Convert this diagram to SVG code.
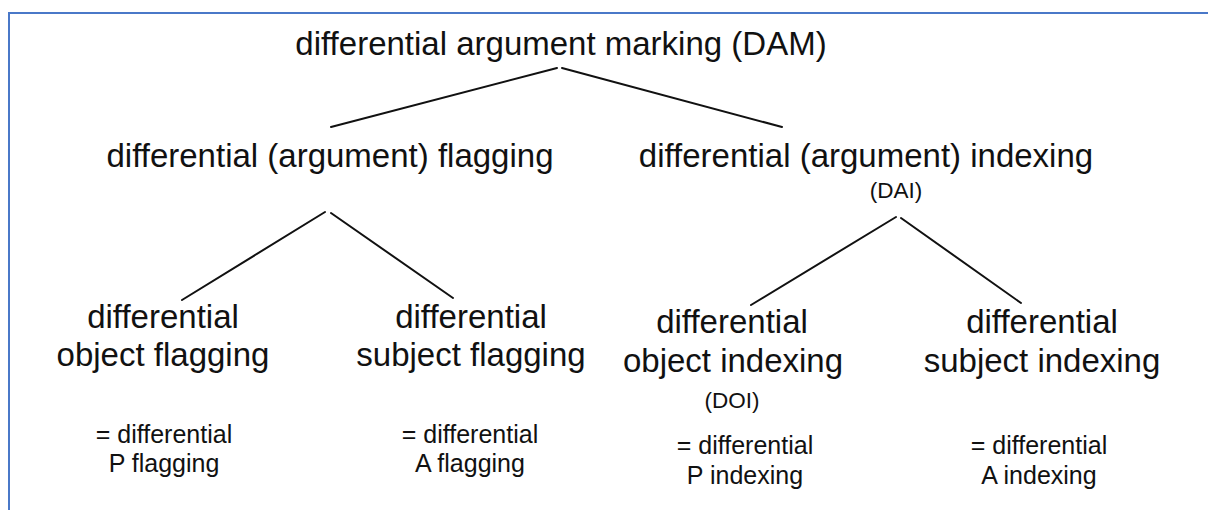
<svg xmlns="http://www.w3.org/2000/svg" width="1208" height="510" viewBox="0 0 1208 510">
<style>
text{font-family:"Liberation Sans",Arial,Helvetica,sans-serif;fill:#111;text-anchor:middle}
.big{font-size:33px}
.sm{font-size:22.5px}
.eq{font-size:25px}
.edge{stroke:#111;stroke-width:2;fill:none;stroke-linecap:round}
.frame{stroke:#4a78c8;stroke-width:2;fill:none}
</style>
<rect width="1208" height="510" fill="#fff"/>
<path class="frame" d="M9 510 V13 H1208"/>
<g id="connectors">
<line class="edge" x1="557" y1="68" x2="331" y2="127"/>
<line class="edge" x1="562" y1="68" x2="782" y2="127"/>
<line class="edge" x1="325" y1="212" x2="182" y2="300"/>
<line class="edge" x1="331" y1="213" x2="453" y2="298"/>
<line class="edge" x1="896" y1="217" x2="751" y2="305"/>
<line class="edge" x1="901" y1="218" x2="1021" y2="303"/>
</g>
<g id="dam"><text class="big" x="561" y="55">differential argument marking (DAM)</text></g>
<g id="flagging"><text class="big" x="330" y="167">differential (argument) flagging</text></g>
<g id="indexing"><text class="big" x="866" y="167">differential (argument) indexing</text><text class="sm" x="896" y="198">(DAI)</text></g>
<g id="dof"><text class="big" x="163" y="328">differential</text><text class="big" x="163" y="366">object flagging</text>
<text class="eq" x="164" y="443">= differential</text><text class="eq" x="164" y="472">P flagging</text></g>
<g id="dsf"><text class="big" x="471" y="328">differential</text><text class="big" x="471" y="366">subject flagging</text>
<text class="eq" x="470" y="443">= differential</text><text class="eq" x="470" y="472">A flagging</text></g>
<g id="doi"><text class="big" x="732" y="333">differential</text><text class="big" x="733" y="372">object indexing</text><text class="sm" x="732" y="408">(DOI)</text>
<text class="eq" x="745" y="454">= differential</text><text class="eq" x="745" y="484">P indexing</text></g>
<g id="dsi"><text class="big" x="1042" y="333">differential</text><text class="big" x="1042" y="372">subject indexing</text>
<text class="eq" x="1039" y="454">= differential</text><text class="eq" x="1039" y="484">A indexing</text></g>
</svg>
